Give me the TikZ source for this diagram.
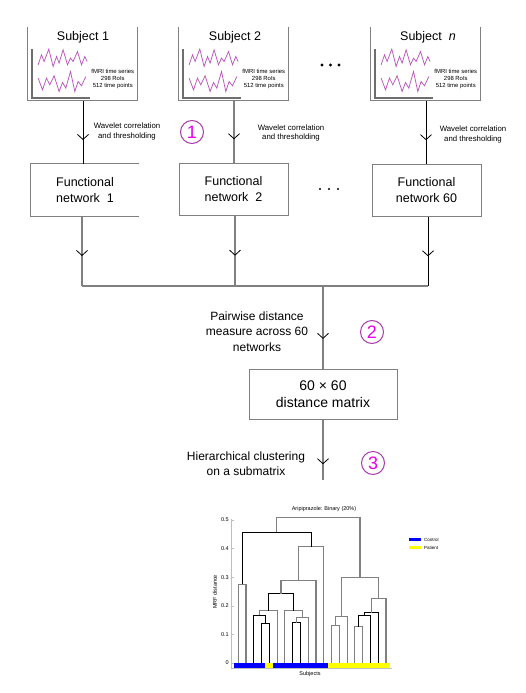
\documentclass[tikz,border=0pt]{standalone}
\usepackage{fontspec}
\setmainfont{Liberation Sans}
\usetikzlibrary{arrows.meta,decorations.markings,calc}
\definecolor{lg}{RGB}{128,128,128}
\definecolor{axg}{RGB}{110,110,110}
\definecolor{zigc}{RGB}{190,85,190}
\definecolor{circc}{RGB}{170,60,170}
\definecolor{circt}{RGB}{230,0,230}
\definecolor{lightax}{RGB}{190,190,190}
\definecolor{barblue}{RGB}{0,0,255}
\definecolor{baryellow}{RGB}{255,255,0}
\newcommand\dU[6][dgray]{\draw[#1] (#2,#3) -- (#2,#6) -- (#4,#6) -- (#4,#5);}
\begin{document}
\begin{tikzpicture}[x=1pt,y=-1pt,
  frame/.style={draw=lg,line width=0.8pt},
  sax/.style={draw=axg,line width=1.4pt},
  zig/.style={draw=zigc,line width=0.75pt,line join=miter},
  ftext/.style={align=center,inner sep=0pt,font={\fontsize{5.9}{7}\selectfont}},
  sbox/.style={minimum width=110,minimum height=74,inner sep=0pt,draw=none},
  stitle/.style={inner sep=0pt,font={\fontsize{12.5}{15}\selectfont}},
  fnbox/.style={draw=lg,line width=0.8pt,minimum width=109,minimum height=52,align=center,inner sep=0pt,font={\fontsize{12.5}{16}\selectfont}},
  fnopen/.style={draw=none,minimum width=108,minimum height=52,align=center,inner sep=0pt,font={\fontsize{12.5}{16}\selectfont}},
  dmbox/.style={draw=lg,line width=0.8pt,minimum width=148,minimum height=50,align=center,inner sep=0pt,font={\fontsize{14}{17}\selectfont}},
  wtext/.style={align=center,inner sep=0pt,font={\fontsize{7.8}{9.5}\selectfont}},
  mtext/.style={align=center,inner sep=0pt,font={\fontsize{12}{15.5}\selectfont}},
  stepc/.style={circle,draw=circc,line width=1pt,minimum size=23,inner sep=0pt,text=circt,font={\fontsize{18}{18}\selectfont}},
  blk/.style={draw=black,line width=0.8pt},
  gln/.style={draw=lg,line width=1.4pt},
  midarrow/.style={postaction={decorate},decoration={markings,mark=at position #1 with {\arrow[black,line width=0.8pt]{Straight Barb[length=5pt,width=11pt]}}}},
  midarrow/.default=0.6,
  dgray/.style={draw=lg,line width=1.1pt},
  dblack/.style={draw=black,line width=0.9pt},
  small/.style={inner sep=0pt,font={\fontsize{5.5}{6.5}\selectfont}},
  subjbody/.pic={
    \draw[frame] (0,0) -- (0,74) -- (110,74) -- (110,0);
    \draw[sax] (4,22) -- (4,71) -- (62,71);
    \draw[zig] (10.3,38) -- (13.7,28) -- (16.3,34.7) -- (21,22.3) -- (25.3,39.7) -- (28.7,29.7) -- (31.3,36.3) -- (35.3,23) -- (39.7,38) -- (42.7,31.3) -- (45.3,34.7) -- (49.7,24.7) -- (53.7,38) -- (57,29.7) -- (59.3,34.7);
    \draw[zig] (10.3,51.3) -- (14.7,63) -- (18.7,51.3) -- (22,58) -- (26.3,49) -- (31.3,64.7) -- (34.7,55.7) -- (38,61.3) -- (42.7,44.7) -- (47,64.7) -- (50.3,54.7) -- (53.7,59) -- (58,49.7);
    \node[ftext] at (85,52) {fMRI time series\\298 RoIs\\512 time points};
  }]
\useasboundingbox (0,0) rectangle (525,693);
\fill[white] (0,0) rectangle (525,693);

% subjects
\node[sbox] (s1) at (83,64) {};
\node[sbox] (s2) at (234,64) {};
\node[sbox] (sn) at (426,64) {};
\pic at (s1.north west) {subjbody};
\pic at (s2.north west) {subjbody};
\pic at (sn.north west) {subjbody};
\node[stitle] (t1) at ($(s1.north)+(0,10)$) {Subject 1};
\node[stitle] (t2) at ($(s2.north)+(1,10)$) {Subject 2};
\node[stitle] (tn) at ($(sn.north)+(2,10)$) {Subject \ \textit{n}};
\fill (322,65) circle (1.6) (330.5,65) circle (1.6) (339,65) circle (1.6);

% functional networks
\node[fnopen] (f1) at (85,190) {Functional\\network\ \ 1};
\draw[frame] (f1.north east) -- (f1.north west) -- (f1.south west) -- (f1.south east);
\node[fnbox] (f2) at (233.5,189) {Functional\\network\ \ 2};
\node[fnbox] (f60) at (426.5,190.5) {Functional\\network 60};
\fill (320,189) circle (1.2) (329,189) circle (1.2) (338,189) circle (1.2);

% step 1 connectors
\draw[blk,midarrow=0.62] (s1.south) -- (s1.south |- f1.north);
\draw[gln,midarrow=0.62] (s2.south) -- (s2.south |- f2.north);
\draw[blk,midarrow=0.62] (sn.south) -- (sn.south |- f60.north);
\node[wtext] (w1) at (127,131.5) {Wavelet correlation\\and thresholding};
\node[wtext] (w2) at (291,133) {Wavelet correlation\\and thresholding};
\node[wtext] (wn) at (473,134.5) {Wavelet correlation\\and thresholding};
\node[stepc] (c1) at (192,132) {1};

% bus
\coordinate (b1) at (82,286);
\coordinate (b2) at (235,286);
\coordinate (b60) at (428,286);
\coordinate (bj) at (323,286);
\draw[gln,midarrow=0.57] (f1.south -| b1) -- (b1);
\draw[gln,midarrow=0.57] (f2.south -| b2) -- (b2);
\draw[blk,midarrow=0.57] (f60.south -| b60) -- (b60);
\draw[gln] (b1) -- (b60);

% distance matrix
\node[dmbox] (dm) at (323,394) {60 × 60\\distance matrix};
\draw[gln,midarrow=0.64] (bj) -- (dm.north);
\node[mtext] (p2) at (257,331.5) {Pairwise distance\\measure across 60\\networks};
\node[stepc] (c2) at (372,332) {2};
\coordinate (e3) at (323,480);
\draw[gln,midarrow=0.74] (dm.south) -- (e3);
\node[mtext] (p3) at (246,463.5) {Hierarchical clustering\\on a submatrix};
\node[stepc] (c3) at (373,463) {3};

% dendrogram
\node[small] (dt) at (324,509) {Aripiprazole: Binary (20\%)};
\draw[lightax,line width=0.6pt] (231,519) -- (231,668) -- (392,668);
\foreach \v/\l in {0/0,1/0.1,2/0.2,3/0.3,4/0.4,5/0.5}{
  \draw[lightax,line width=0.5pt] (231,663-28.6*\v) -- (233.5,663-28.6*\v);
  \node[small,anchor=east] at (229,663-28.6*\v) {\l};
}
\node[small,rotate=90] (yl) at (215,592) {MRF distance};
\node[small] (xl) at (310,674) {Subjects};

\dU{238.2}{663}{246.0}{663}{584.4}
\dU[dblack]{261.5}{663}{269.3}{663}{623.0}
\dU[dblack]{253.8}{663}{265.4}{623.0}{615.2}
\dU{259.6}{615.2}{277.1}{663}{610.8}
\dU[dblack]{292.7}{663}{300.4}{663}{622.7}
\dU{296.6}{622.7}{308.2}{663}{617.2}
\dU{284.9}{663}{302.4}{617.2}{610.8}
\dU[dblack]{268.4}{610.8}{293.6}{610.8}{593.8}
\dU{281.0}{593.8}{316.0}{663}{580.6}
\dU{298.5}{580.6}{323.8}{663}{546.6}
\dU[dblack]{242.1}{584.4}{311.1}{546.6}{532.3}
\dU{331.6}{663}{339.3}{663}{625.8}
\dU{335.5}{625.8}{347.1}{663}{616.7}
\dU{354.9}{663}{362.7}{663}{626.7}
\dU[dblack]{358.8}{626.7}{370.5}{663}{615.2}
\dU[dblack]{364.6}{615.2}{378.2}{663}{612.7}
\dU{371.4}{612.7}{386.0}{663}{598.6}
\dU{341.3}{616.7}{378.7}{598.6}{577.2}
\dU{276.6}{532.3}{360.0}{577.2}{517.1}

\fill[barblue] (234.3,662.5) rectangle (265.4,667.5);
\fill[baryellow] (265.4,662.5) rectangle (273.2,667.5);
\fill[barblue] (273.2,662.5) rectangle (327.7,667.5);
\fill[baryellow] (327.7,662.5) rectangle (389.8,667.5);

% legend
\fill[barblue] (409,537.7) rectangle (421,541.3);
\fill[baryellow] (409,545.7) rectangle (421,549);
\node[inner sep=0pt,anchor=west,font={\fontsize{4.5}{5}\selectfont}] (lc) at (424,539.5) {Control};
\node[inner sep=0pt,anchor=west,font={\fontsize{4.5}{5}\selectfont}] (lp) at (424,547.5) {Patient};
\end{tikzpicture}
\end{document}
